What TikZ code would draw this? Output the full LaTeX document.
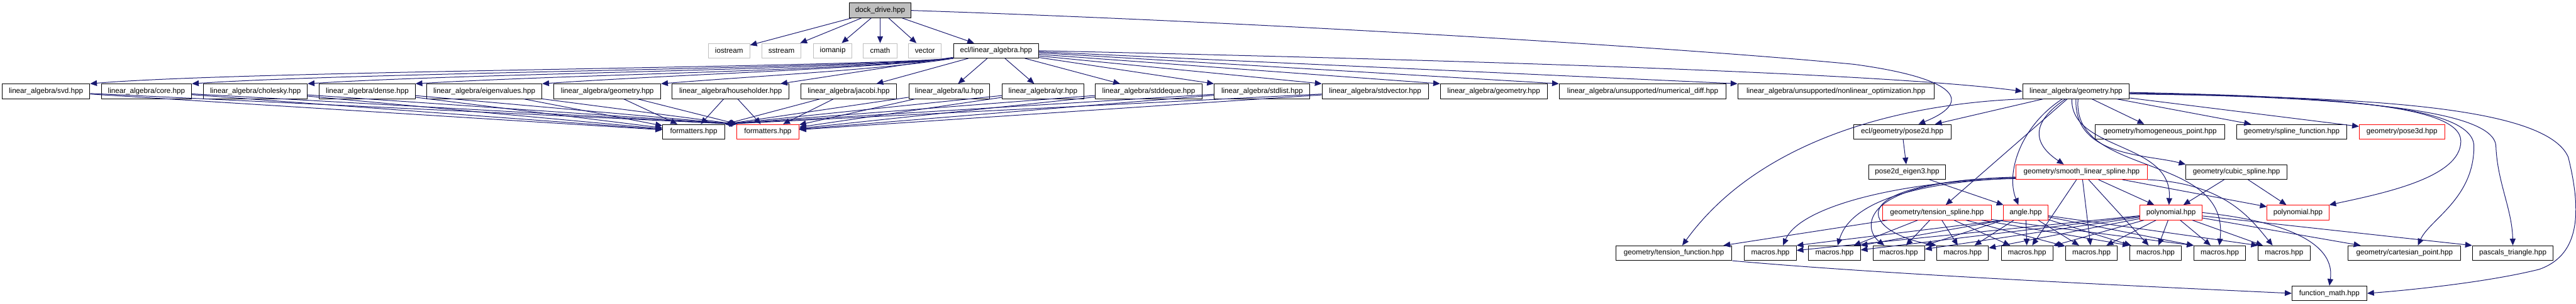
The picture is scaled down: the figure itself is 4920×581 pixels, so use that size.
\documentclass[tikz,border=0pt]{standalone}
\usepackage{fontspec}
\setmainfont{Liberation Sans}
\usetikzlibrary{arrows.meta}
\definecolor{edgec}{RGB}{25,25,112}
\definecolor{lightgr}{RGB}{191,191,191}
\definecolor{fillgr}{RGB}{191,191,191}
\tikzset{
  nb/.style={draw=black, line width=0.6pt, rectangle, minimum height=14pt, inner sep=0pt, font=\fontsize{7}{8.4}\selectfont},
  nr/.style={nb, draw=red},
  ng/.style={nb, draw=lightgr},
  e/.style={draw=edgec, line width=0.6pt, -{Triangle[length=6.5pt,width=5.5pt]}},
}
\begin{document}
\begin{tikzpicture}[x=0.5pt, y=-0.5pt]
\useasboundingbox (0,0) rectangle (4920,581);
% row 0
\node[nb, fill=fillgr, minimum width=59pt] (dock) at (1681,20) {dock\_drive.hpp};
% row 1
\node[ng, minimum width=39.5pt] (iostream) at (1392.5,97) {iostream};
\node[ng, minimum width=37.5pt] (sstream) at (1492.5,97) {sstream};
\node[ng, minimum width=36.5pt] (iomanip) at (1590.5,97) {iomanip};
\node[ng, minimum width=32pt] (cmath) at (1681,97) {cmath};
\node[ng, minimum width=31.5pt] (vector) at (1766.5,97) {vector};
\node[nb, minimum width=81.5pt] (eclla) at (1902.5,97) {ecl/linear\_algebra.hpp};
% row 2
\node[nb, minimum width=83.75pt] (svd) at (87.75,174.7) {linear\_algebra/svd.hpp};
\node[nb, minimum width=86.25pt] (core) at (279.75,174.7) {linear\_algebra/core.hpp};
\node[nb, minimum width=99pt] (cholesky) at (488,174.7) {linear\_algebra/cholesky.hpp};
\node[nb, minimum width=91.5pt] (dense) at (701.5,174.7) {linear\_algebra/dense.hpp};
\node[nb, minimum width=110pt] (eigen) at (925,174.7) {linear\_algebra/eigenvalues.hpp};
\node[nb, minimum width=102pt] (lageoA) at (1160,174.7) {linear\_algebra/geometry.hpp};
\node[nb, minimum width=111.5pt] (householder) at (1395.5,174.7) {linear\_algebra/householder.hpp};
\node[nb, minimum width=91pt] (jacobi) at (1621,174.7) {linear\_algebra/jacobi.hpp};
\node[nb, minimum width=77.25pt] (lu) at (1813,174.7) {linear\_algebra/lu.hpp};
\node[nb, minimum width=78.25pt] (qr) at (1992,174.7) {linear\_algebra/qr.hpp};
\node[nb, minimum width=102pt] (stddeque) at (2194,174.7) {linear\_algebra/stddeque.hpp};
\node[nb, minimum width=91.5pt] (stdlist) at (2410.5,174.7) {linear\_algebra/stdlist.hpp};
\node[nb, minimum width=101.5pt] (stdvector) at (2626.5,174.7) {linear\_algebra/stdvector.hpp};
\node[nb, minimum width=102pt] (lageoB) at (2853,174.7) {linear\_algebra/geometry.hpp};
\node[nb, minimum width=159.5pt] (numdiff) at (3137.5,174.7) {linear\_algebra/unsupported/numerical\_diff.hpp};
\node[nb, minimum width=187.5pt] (nonlin) at (3506.5,174.7) {linear\_algebra/unsupported/nonlinear\_optimization.hpp};
\node[nb, minimum width=102pt] (lageoC) at (3965,174.7) {linear\_algebra/geometry.hpp};
% row 3
\node[nb, minimum width=59.5pt] (fmtb) at (1325,252) {formatters.hpp};
\node[nr, minimum width=59.5pt] (fmtr) at (1466.5,252) {formatters.hpp};
\node[nb, minimum width=93pt] (pose2d) at (3633,252) {ecl/geometry/pose2d.hpp};
\node[nb, minimum width=123.5pt] (homog) at (4125.5,252) {geometry/homogeneous\_point.hpp};
\node[nb, minimum width=105.25pt] (splinefn) at (4377,252) {geometry/spline\_function.hpp};
\node[nr, minimum width=81.5pt] (pose3d) at (4587.5,252) {geometry/pose3d.hpp};
% row 4
\node[nb, minimum width=73.5pt] (pe3) at (3642.5,329) {pose2d\_eigen3.hpp};
\node[nr, minimum width=125.75pt] (smooth) at (3975.75,329) {geometry/smooth\_linear\_spline.hpp};
\node[nb, minimum width=96.5pt] (cubic) at (4271.5,329) {geometry/cubic\_spline.hpp};
% row 5
\node[nr, minimum width=103.5pt] (tspline) at (3699.5,406.5) {geometry/tension\_spline.hpp};
\node[nr, minimum width=42.75pt] (angle) at (3869,406.5) {angle.hpp};
\node[nr, minimum width=59.5pt] (poly1) at (4146.5,406.5) {polynomial.hpp};
\node[nr, minimum width=59pt] (poly2) at (4389,406.5) {polynomial.hpp};
% row 6
\node[nb, minimum width=110.75pt] (tfunc) at (3197,484) {geometry/tension\_function.hpp};
\node[nb, minimum width=49.4pt] (m1) at (3381.3,484) {macros.hpp};
\node[nb, minimum width=49.4pt] (m2) at (3503.8,484) {macros.hpp};
\node[nb, minimum width=49.4pt] (m3) at (3626.5,484) {macros.hpp};
\node[nb, minimum width=49.4pt] (m4) at (3748.5,484) {macros.hpp};
\node[nb, minimum width=49.4pt] (m5) at (3871.5,484) {macros.hpp};
\node[nb, minimum width=49.4pt] (m6) at (3994.5,484) {macros.hpp};
\node[nb, minimum width=49.4pt] (m7) at (4117,484) {macros.hpp};
\node[nb, minimum width=49.4pt] (m8) at (4239.7,484) {macros.hpp};
\node[nb, minimum width=49.4pt] (m9) at (4362.5,484) {macros.hpp};
\node[nb, minimum width=107.5pt] (cart) at (4592.5,484) {geometry/cartesian\_point.hpp};
\node[nb, minimum width=77.3pt] (pascal) at (4799.3,484) {pascals\_triangle.hpp};
% row 7
\node[nb, minimum width=71.5pt] (fmath) at (4449,561) {function\_math.hpp};

% ---- edges from dock_drive
\draw[e] (dock) -- (iostream);
\draw[e] (dock) -- (sstream);
\draw[e] (dock) -- (iomanip);
\draw[e] (dock) -- (cmath);
\draw[e] (dock) -- (vector);
\draw[e] (dock) -- (eclla);
\draw[e] (dock.east) .. controls (2400,42) and (3200,90) .. (3541,123) .. controls (3740,150) and (3770,195) .. ([xshift=15.5pt]pose2d.north);

% ---- edges from ecl/linear_algebra
\draw[e] (eclla.south west) .. controls (1600,130) and (472,135) .. (svd.north east);
\draw[e] (eclla.south west) .. controls (1600,132) and (700,138) .. (core.north east);
\draw[e] (eclla.south west) .. controls (1600,134) and (900,140) .. (cholesky.north east);
\draw[e] (eclla.south west) .. controls (1600,136) and (1100,142) .. (dense.north east);
\draw[e] (eclla.south west) .. controls (1650,132) and (1300,142) .. (eigen.north east);
\draw[e] (eclla.south west) .. controls (1700,132) and (1450,145) .. (lageoA.north east);
\draw[e] (eclla) -- (householder);
\draw[e] (eclla) -- (jacobi);
\draw[e] (eclla) -- (lu);
\draw[e] (eclla) -- (qr);
\draw[e] (eclla) -- (stddeque);
\draw[e] ([yshift=-6.5pt]eclla.east) -- (stdlist.north west);
\draw[e] ([yshift=-5pt]eclla.east) -- (stdvector.north west);
\draw[e] ([yshift=-3.5pt]eclla.east) -- (lageoB.north west);
\draw[e] ([yshift=-2pt]eclla.east) -- (numdiff.north west);
\draw[e] ([yshift=-1pt]eclla.east) -- (nonlin.north west);
\draw[e] (eclla.east) .. controls (2800,115) and (3600,140) .. (lageoC.west);

% ---- edges to formatters
\foreach \h in {svd,core,cholesky,dense,eigen}{
  \draw[e] (\h) -- (fmtb);
  \draw[e] (\h) -- (fmtr.north west);
}
\foreach \h in {lageoA,householder}{
  \draw[e] (\h) -- (fmtb);
  \draw[e] (\h) -- (fmtr);
}
\foreach \h in {jacobi,lu,qr,stddeque,stdlist,stdvector}{
  \draw[e] (\h) -- (fmtb.north east);
  \draw[e] (\h) -- (fmtr);
}

% ---- edges from the right geometry.hpp
\draw[e] (lageoC) -- (pose2d);
\draw[e] (lageoC.south west) .. controls (3600,200) and (3350,280) .. ([xshift=8pt]tfunc.north);
\draw[e] (lageoC) -- (tspline);
\draw[e] ([xshift=-13pt]lageoC.south) .. controls (3860,240) and (3830,330) .. ([xshift=-7pt]angle.north);
\draw[e] ([xshift=-10pt]lageoC.south) .. controls (3870,240) and (3890,280) .. ([xshift=-17pt]smooth.north);
\draw[e] ([xshift=-4pt]lageoC.south) .. controls (3955,290) and (4150,270) .. ([xshift=-2pt]poly1.north);
\draw[e] (lageoC.south) .. controls (3960,300) and (4100,295) .. (cubic.north west);
\draw[e] ([xshift=2pt]lageoC.south) .. controls (3955,340) and (4260,290) .. ([xshift=-0.5pt]m8.north);
\draw[e] (lageoC) -- (homog);
\draw[e] (lageoC) -- (splinefn);
\draw[e] (lageoC) -- (pose3d);
\draw[e] ([yshift=-1pt]lageoC.east) .. controls (4450,185) and (4700,200) .. (4700,270) .. controls (4700,340) and (4550,370) .. (poly2.north east);
\draw[e] ([yshift=-1.5pt]lageoC.east) .. controls (4450,185) and (4725,200) .. (4725,280) .. controls (4725,380) and (4640,420) .. ([xshift=12.75pt]cart.north);
\draw[e] ([yshift=-2pt]lageoC.east) .. controls (4450,186) and (4765,205) .. (4767,280) .. controls (4770,350) and (4798,400) .. (pascal.north);
\draw[e] ([yshift=-2.5pt]lageoC.east) .. controls (4500,186) and (4860,200) .. (4905,300) .. controls (4935,420) and (4920,490) .. (4850,515) .. controls (4750,540) and (4600,555) .. (fmath.east);

% ---- lower part
\draw[e] (pose2d) -- (pe3);
\draw[e] (pe3) -- (angle);
\draw[e] (cubic) -- (poly1);
\draw[e] (cubic) -- (poly2);

\draw[e] ([yshift=1pt]smooth.south west) .. controls (3650,345) and (3440,390) .. ([xshift=12pt]m1.north);
\draw[e] ([yshift=1.5pt]smooth.south west) .. controls (3620,350) and (3530,400) .. ([xshift=3pt]m2.north);
\draw[e] ([yshift=2pt]smooth.south west) .. controls (3540,345) and (3560,440) .. ([xshift=-13.75pt]m3.north);
\draw[e] ([yshift=2.5pt]smooth.south west) .. controls (3500,350) and (3560,445) .. (m4.north west);
\draw[e] (smooth) -- (m5);
\draw[e] (smooth) -- (m6);
\draw[e] (smooth) -- (m7);
\draw[e] (smooth) -- (poly1);
\draw[e] (smooth) -- (poly2);
\draw[e] (smooth.south east) .. controls (4250,350) and (4300,420) .. ([xshift=-11pt]m9.north);

\draw[e] (angle.south west) -- (m1.north east);
\draw[e] (angle.south west) -- (m2.north east);
\draw[e] (angle.south west) -- (m3.north east);
\draw[e] (angle) -- (m4);
\draw[e] (angle) -- (m5);
\draw[e] (angle) -- (m6);
\draw[e] (angle) -- (m7);
\draw[e] (angle) -- (m8.north west);
\draw[e] (angle) -- (m9.north west);

\draw[e] (tspline) -- (tfunc);
\draw[e] (tspline) -- (m2);
\draw[e] (tspline) -- (m3);
\draw[e] (tspline) -- (m4);
\draw[e] (tspline) -- (m5);
\draw[e] (tspline) -- (m6);
\draw[e] (tspline) -- (m7.north west);
\draw[e] (tspline) -- (m8.north west);

\foreach \m in {m1,m2,m3,m4,m5,m6,m7,m8,m9}{
  \draw[e] (poly1) -- (\m);
}
\draw[e] (poly1) -- (cart);
\draw[e] (poly1) -- (pascal.north west);
\draw[e] (poly1.east) .. controls (4380,425) and (4460,470) .. (fmath.north);

\draw[e] (tfunc.south east) .. controls (3600,525) and (4100,548) .. (fmath.west);
\end{tikzpicture}
\end{document}
